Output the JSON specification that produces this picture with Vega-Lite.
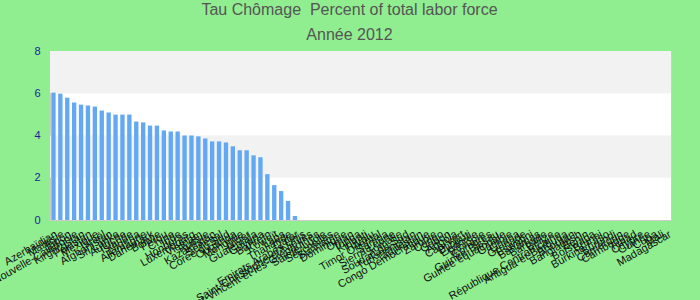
{
  "$schema": "https://vega.github.io/schema/vega-lite/v6.json",
  "width": 621,
  "height": 169,
  "autosize": "none",
  "padding": {"left": 50, "top": 51, "right": 29, "bottom": 80},
  "background": "#90ee90",
  "title": {
    "text": "Tau Chômage \u00a0Percent of total labor force",
    "subtitle": "Année 2012",
    "fontSize": 16,
    "subtitleFontSize": 16,
    "font": "Liberation Sans",
    "subtitleFont": "Liberation Sans",
    "fontWeight": "normal",
    "color": "#555555",
    "subtitleColor": "#555555",
    "anchor": "middle",
    "frame": "group",
    "dx": -11,
    "offset": 2,
    "subtitlePadding": 9
  },
  "config": {"view": {"fill": "white", "stroke": "#cccccc"}},
  "layer": [
    {
      "data": {"values": [{"lo": 2, "hi": 4}, {"lo": 6, "hi": 8}]},
      "mark": {"type": "rect", "color": "#f2f2f2"},
      "encoding": {
        "y": {"field": "lo", "type": "quantitative", "scale": {"domain": [0, 8]},
          "axis": {"title": null, "values": [0, 2, 4, 6, 8], "grid": false, "domain": false, "ticks": false, "labelColor": "#1c1c9c", "labelFontSize": 11, "labelPadding": 10, "labelFont": "Liberation Sans"}},
        "y2": {"field": "hi"}
      }
    },
    {
      "data": {"values": [
        {"pays": "Azerbaïdjan", "v": 6.03},
        {"pays": "Malaisie", "v": 5.98},
        {"pays": "Japon", "v": 5.79},
        {"pays": "Nouvelle-Calédonie", "v": 5.56},
        {"pays": "Kirghizistan", "v": 5.46},
        {"pays": "Pakistan", "v": 5.42},
        {"pays": "Mexique", "v": 5.37},
        {"pays": "Israël", "v": 5.18},
        {"pays": "Afghanistan", "v": 5.09},
        {"pays": "Sri Lanka", "v": 4.99},
        {"pays": "Autriche", "v": 4.99},
        {"pays": "Islande", "v": 4.99},
        {"pays": "Nigeria", "v": 4.66},
        {"pays": "Allemagne", "v": 4.62},
        {"pays": "Danemark", "v": 4.47},
        {"pays": "Bolivie", "v": 4.47},
        {"pays": "Pérou", "v": 4.24},
        {"pays": "Chine", "v": 4.19},
        {"pays": "Inde", "v": 4.19},
        {"pays": "Honduras", "v": 4.0},
        {"pays": "Luxembourg", "v": 4.0},
        {"pays": "Vietnam", "v": 3.96},
        {"pays": "Russie", "v": 3.86},
        {"pays": "Kazakhstan", "v": 3.72},
        {"pays": "Sénégal", "v": 3.72},
        {"pays": "Corée du Sud", "v": 3.67},
        {"pays": "Ouganda", "v": 3.49},
        {"pays": "Mongolie", "v": 3.3},
        {"pays": "Niger", "v": 3.3},
        {"pays": "Guatemala", "v": 3.06},
        {"pays": "Guyana", "v": 2.97},
        {"pays": "Bahreïn", "v": 2.17},
        {"pays": "Koweït", "v": 1.65},
        {"pays": "Laos", "v": 1.37},
        {"pays": "Thaïlande", "v": 0.9},
        {"pays": "Qatar", "v": 0.19},
        {"pays": "Emirats Arabes Unis", "v": 0},
        {"pays": "Saint-Christophe-et-Niévès", "v": 0},
        {"pays": "Saint-Vincent-et-les-Grenadines", "v": 0},
        {"pays": "Sainte-Lucie", "v": 0},
        {"pays": "Seychelles", "v": 0},
        {"pays": "Suriname", "v": 0},
        {"pays": "Dominique", "v": 0},
        {"pays": "Oman", "v": 0},
        {"pays": "Tonga", "v": 0},
        {"pays": "Kiribati", "v": 0},
        {"pays": "Tuvalu", "v": 0},
        {"pays": "Timor Oriental", "v": 0},
        {"pays": "Samoa", "v": 0},
        {"pays": "Sierra Leone", "v": 0},
        {"pays": "Somalie", "v": 0},
        {"pays": "Soudan du Sud", "v": 0},
        {"pays": "Turkménistan", "v": 0},
        {"pays": "Tadjikistan", "v": 0},
        {"pays": "Congo Démocratique", "v": 0},
        {"pays": "Zambie", "v": 0},
        {"pays": "Congo", "v": 0},
        {"pays": "Gabon", "v": 0},
        {"pays": "Angola", "v": 0},
        {"pays": "Cap-Vert", "v": 0},
        {"pays": "Djibouti", "v": 0},
        {"pays": "Erythrée", "v": 0},
        {"pays": "Ethiopie", "v": 0},
        {"pays": "Comores", "v": 0},
        {"pays": "Guinée-Bissau", "v": 0},
        {"pays": "Guinée équatoriale", "v": 0},
        {"pays": "Gambie", "v": 0},
        {"pays": "Ghana", "v": 0},
        {"pays": "Grenade", "v": 0},
        {"pays": "Eswatini", "v": 0},
        {"pays": "Bahamas", "v": 0},
        {"pays": "Barbade", "v": 0},
        {"pays": "Belize", "v": 0},
        {"pays": "République Centrafricaine", "v": 0},
        {"pays": "Antigua-et-Barbuda", "v": 0},
        {"pays": "Bhoutan", "v": 0},
        {"pays": "Bangladesh", "v": 0},
        {"pays": "Bénin", "v": 0},
        {"pays": "Botswana", "v": 0},
        {"pays": "Brunei", "v": 0},
        {"pays": "Burkina Faso", "v": 0},
        {"pays": "Burundi", "v": 0},
        {"pays": "Cameroun", "v": 0},
        {"pays": "Cambodge", "v": 0},
        {"pays": "Tchad", "v": 0},
        {"pays": "Chypre", "v": 0},
        {"pays": "Guinée", "v": 0},
        {"pays": "Cuba", "v": 0},
        {"pays": "Mali", "v": 0},
        {"pays": "Madagascar", "v": 0}
      ]},
      "mark": {"type": "bar", "color": "#62a8f2"},
      "encoding": {
        "x": {"field": "pays", "type": "nominal", "sort": null,
          "scale": {"paddingInner": 0.37, "paddingOuter": 0.185},
          "axis": {"title": null, "labelAngle": -30, "labelOverlap": false, "ticks": false, "domain": false, "labelFontSize": 11, "labelColor": "#111111", "labelPadding": 8, "labelFont": "Liberation Sans"}},
        "y": {"field": "v", "type": "quantitative", "scale": {"domain": [0, 8]},
          "axis": {"title": null, "values": [0, 2, 4, 6, 8], "grid": false, "domain": false, "ticks": false, "labelColor": "#1c1c9c", "labelFontSize": 11, "labelPadding": 10, "labelFont": "Liberation Sans"}}
      }
    }
  ]
}
